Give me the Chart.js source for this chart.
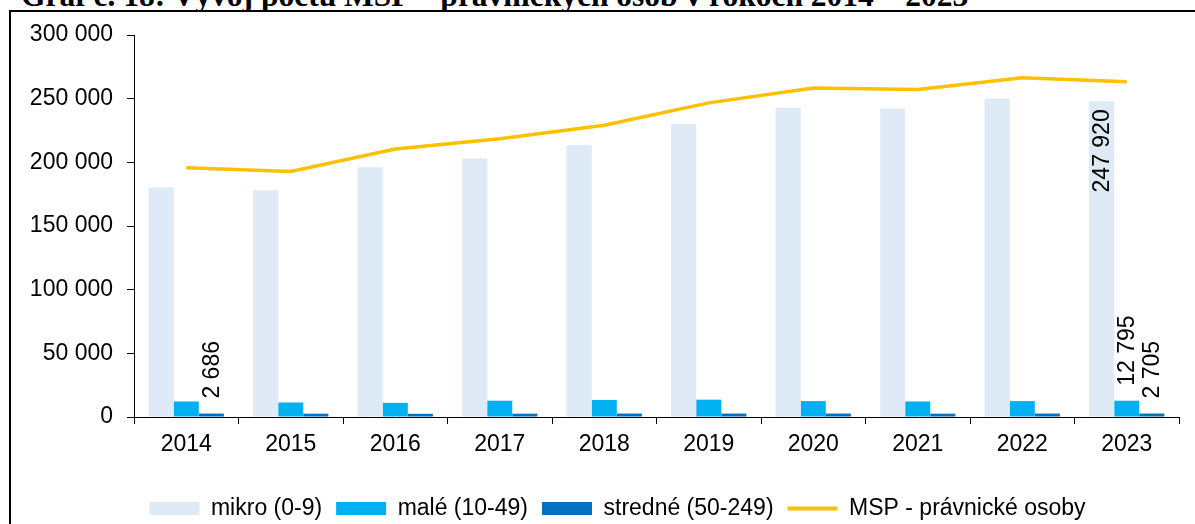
<!DOCTYPE html>
<html>
<head>
<meta charset="utf-8">
<script src="https://cdn.jsdelivr.net/npm/chart.js@4.4.1/dist/chart.umd.min.js"></script>
<style>
    body { margin: 0; background: #fff; overflow: hidden; }
    #title {
        position: absolute; left: 21px; top: -20px;
        font-family: "Liberation Serif", "Times New Roman", serif;
        font-weight: bold; font-size: 31.5px; line-height: 31px;
        white-space: nowrap; color: #000; z-index: 0;
    }
    #frame {
        position: absolute; left: 9px; top: 10px; width: 1400px; height: 700px;
        border: 2px solid #000; background: #fff; z-index: 1;
    }
    #chart { position: absolute; left: 0; top: 0; z-index: 2; }
</style>
</head>
<body>
<div id="title">Graf č. 18: Vývoj počtu MSP – právnických osôb v rokoch 2014 – 2023</div>
<div id="frame"></div>
<canvas id="chart" width="1235" height="530"></canvas>
<script>
const years = ["2014", "2015", "2016", "2017", "2018", "2019", "2020", "2021", "2022", "2023"];
const mikro = [180300, 178000, 196100, 203100, 213400, 230200, 242800, 242000, 250100, 247920];
const male = [12200, 11400, 11100, 12800, 13400, 13600, 12500, 12200, 12500, 12795];
const stredne = [2686, 2600, 2500, 2600, 2700, 2700, 2700, 2600, 2700, 2705];
const msp = [195800, 192900, 210500, 218600, 229100, 246700, 258300, 257200, 266400, 263200];
const yTicks = [0, 50000, 100000, 150000, 200000, 250000, 300000];

// which values carry a rotated label: [dataset, index, placement]
const labelled = [
    [2, 0, "above"],
    [0, 9, "inside"],
    [1, 9, "above"],
    [2, 9, "above"],
];

const FONT = "'Liberation Sans', Arial, sans-serif";

function spaced(v) {
    return String(Math.round(v)).replace(/\B(?=(\d{3})+(?!\d))/g, " ");
}

const barLabels = {
    id: "barLabels",
    afterDatasetsDraw(chart) {
        const ctx = chart.ctx;
        ctx.save();
        ctx.font = "23px " + FONT;
        ctx.fillStyle = "#000";
        ctx.textBaseline = "middle";
        labelled.forEach(([ds, i, place]) => {
            const bar = chart.getDatasetMeta(ds).data[i];
            const value = chart.data.datasets[ds].data[i];
            ctx.save();
            if (place === "above") {
                ctx.translate(bar.x, bar.y - 15);
                ctx.rotate(-Math.PI / 2);
                ctx.textAlign = "left";
            } else {
                ctx.translate(bar.x, bar.y + 8);
                ctx.rotate(-Math.PI / 2);
                ctx.textAlign = "right";
            }
            ctx.fillText(spaced(value), 0, 1);
            ctx.restore();
        });
        ctx.restore();
    }
};

// the original centres its legend on the whole frame, not on the plot
const legendShift = {
    id: "legendShift",
    afterLayout(chart) {
        chart.legend.left += 28;
        chart.legend.right += 28;
    }
};

new Chart(document.getElementById("chart"), {
    type: "bar",
    data: {
        labels: years,
        datasets: [
            { label: "mikro (0-9)", data: mikro, backgroundColor: "#DEEAF6" },
            { label: "malé (10-49)", data: male, backgroundColor: "#00B0F0" },
            { label: "stredné (50-249)", data: stredne, backgroundColor: "#0070C0" },
            {
                type: "line", label: "MSP - právnické osoby", data: msp,
                borderColor: "#FFC000", backgroundColor: "#FFC000",
                borderWidth: 3.5, pointRadius: 0, tension: 0,
            },
        ],
    },
    options: {
        responsive: false,
        animation: false,
        devicePixelRatio: 1,
        categoryPercentage: 0.72,
        barPercentage: 1.0,
        layout: { padding: { left: 0, right: 56, top: 35, bottom: 0 } },
        plugins: {
            tooltip: { enabled: false },
            legend: {
                position: "bottom",
                labels: {
                    usePointStyle: true,
                    pointStyleWidth: 50,
                    boxHeight: 13,
                    padding: 14,
                    color: "#000",
                    font: { family: FONT, size: 23 },
                    generateLabels(chart) {
                        const items = Chart.defaults.plugins.legend.labels.generateLabels(chart);
                        items.forEach(item => {
                            const ds = chart.data.datasets[item.datasetIndex];
                            if (ds.type === "line") {
                                item.pointStyle = "line";
                                item.lineWidth = 4;
                                item.strokeStyle = ds.borderColor;
                            } else {
                                item.pointStyle = "rect";
                                item.lineWidth = 0;
                            }
                        });
                        return items;
                    },
                },
            },
        },
        scales: {
            x: {
                grid: { drawOnChartArea: false, tickLength: 7, tickColor: "#000", offset: true },
                border: { color: "#000", width: 1 },
                ticks: { color: "#000", padding: 7, maxRotation: 0, font: { family: FONT, size: 23 } },
                afterFit(scale) { scale.height = 66; },
            },
            y: {
                min: 0,
                max: 300000,
                grid: { drawOnChartArea: false, tickLength: 7, tickColor: "#000" },
                border: { color: "#000", width: 1 },
                afterBuildTicks(scale) { scale.ticks = yTicks.map(v => ({ value: v })); },
                afterFit(scale) { scale.width = 134; },
                ticks: {
                    color: "#000", padding: 14,
                    font: { family: FONT, size: 23 },
                    callback: v => spaced(v),
                },
            },
        },
    },
    plugins: [barLabels, legendShift],
});
</script>
</body>
</html>
